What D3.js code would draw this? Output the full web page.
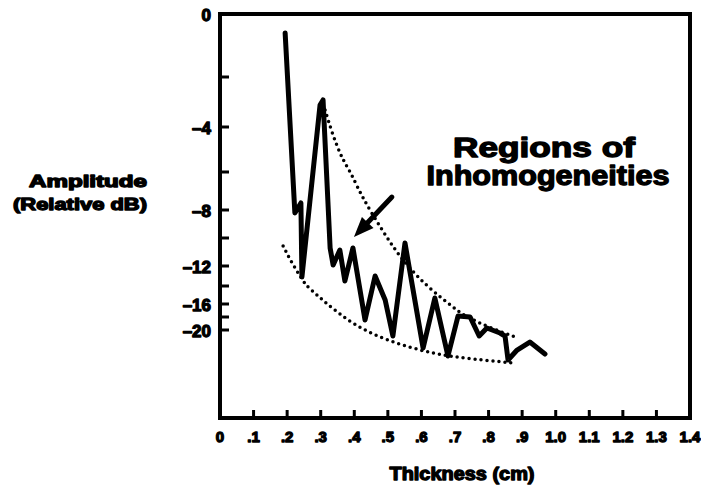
<!DOCTYPE html>
<html>
<head>
<meta charset="utf-8">
<script src="https://cdn.jsdelivr.net/npm/d3@7"></script>
<style>
  body { margin: 0; background: #fff; }
  text { font-family: "Liberation Sans", Arial, sans-serif; font-weight: bold; fill: #000; stroke: #000; stroke-width: 1.3px; stroke-linejoin: round; }
</style>
</head>
<body>
<div id="chart"></div>
<script>
// measured trace (thickness in cm, amplitude in relative dB)
const curveX = [0.194, 0.223, 0.241, 0.244, 0.298, 0.307, 0.328, 0.337, 0.357, 0.372, 0.396, 0.432, 0.462, 0.492, 0.515, 0.551, 0.605, 0.640, 0.679, 0.709, 0.745, 0.772, 0.795, 0.834, 0.849, 0.858, 0.885, 0.923, 0.968];
const curveDb = [-0.6, -8.21, -7.63, -13.1, -3.12, -2.92, -10.71, -11.93, -10.86, -13.5, -10.71, -18.46, -13.0, -15.56, -20.92, -10.36, -22.77, -15.33, -24.0, -17.85, -18.0, -20.92, -19.69, -20.46, -20.92, -24.62, -23.08, -21.85, -23.69];

// dotted envelopes
const upperX = [0.313, 0.334, 0.357, 0.372, 0.396, 0.423, 0.486, 0.542, 0.617, 0.706, 0.724, 0.804, 0.888];
const upperDb = [-3.32, -4.27, -5.16, -5.6, -6.26, -7.32, -9.57, -11.57, -14.11, -16.92, -17.69, -19.69, -21.23];
const lowerX = [0.188, 0.214, 0.253, 0.262, 0.349, 0.447, 0.617, 0.724, 0.843, 0.870];
const lowerDb = [-10.57, -11.79, -13.8, -14.11, -17.38, -20.77, -23.54, -24.31, -24.92, -25.08];

// axes
const xTicks = [0, 0.1, 0.2, 0.3, 0.4, 0.5, 0.6, 0.7, 0.8, 0.9, 1.0, 1.1, 1.2, 1.3, 1.4];
const xTickLabels = ["0", ".1", ".2", ".3", ".4", ".5", ".6", ".7", ".8", ".9", "1.0", "1.1", "1.2", "1.3", "1.4"];
const yTicks = [0, -2, -4, -6, -8, -10, -12, -14, -16, -18, -20];
const yLabelled = [0, -4, -8, -12, -16, -20];

// annotation arrow (tail, tip)
const arrowX = [0.512, 0.399];
const arrowDb = [-7.32, -9.93];

const width = 701, height = 493;
const plotLeft = 220, plotRight = 690, plotTop = 14, plotBottom = 418;

const svg = d3.select('#chart').append('svg').attr('width', width).attr('height', height);

const x = d3.scaleLinear().domain([0, 1.4]).range([plotLeft, plotRight]);
// the printed dB axis is compressed toward the bottom
const y = d3.scaleLinear()
    .domain(yTicks)
    .range([14, 77, 127, 172, 210, 238, 266, 286, 304, 317, 330]);

// frame
svg.append('rect')
    .attr('x', plotLeft).attr('y', plotTop)
    .attr('width', plotRight - plotLeft).attr('height', plotBottom - plotTop)
    .attr('fill', 'none').attr('stroke', '#000').attr('stroke-width', 4);

// x ticks (pointing up)
svg.selectAll('.xt').data(xTicks.slice(1, -1)).enter().append('line')
    .attr('x1', d => x(d)).attr('x2', d => x(d))
    .attr('y1', plotBottom).attr('y2', plotBottom - 8)
    .attr('stroke', '#000').attr('stroke-width', 3);

svg.selectAll('.xl').data(xTicks).enter().append('text')
    .attr('x', d => x(d)).attr('y', 442)
    .attr('text-anchor', 'middle').attr('font-size', 15)
    .text((d, i) => xTickLabels[i]);

// y ticks (pointing right)
svg.selectAll('.yt').data(yTicks.slice(1)).enter().append('line')
    .attr('x1', plotLeft).attr('x2', plotLeft + 9)
    .attr('y1', d => y(d)).attr('y2', d => y(d))
    .attr('stroke', '#000').attr('stroke-width', 3);

svg.selectAll('.yl').data(yLabelled).enter().append('text')
    .attr('x', 211).attr('y', d => y(d) + 7)
    .attr('text-anchor', 'end').attr('font-size', 17)
    .text(d => d === 0 ? "0" : "\u2013" + Math.abs(d));

// axis titles
svg.append('text').attr('x', 88).attr('y', 187).attr('text-anchor', 'middle')
    .attr('font-size', 16).attr('textLength', 118).attr('lengthAdjust', 'spacingAndGlyphs')
    .text('Amplitude');
svg.append('text').attr('x', 80).attr('y', 210).attr('text-anchor', 'middle')
    .attr('font-size', 16).attr('textLength', 134).attr('lengthAdjust', 'spacingAndGlyphs')
    .text('(Relative dB)');
svg.append('text').attr('x', 462).attr('y', 480).attr('text-anchor', 'middle')
    .attr('font-size', 18).attr('textLength', 145).attr('lengthAdjust', 'spacingAndGlyphs')
    .text('Thickness (cm)');

// annotation
svg.append('text').attr('x', 544).attr('y', 157).attr('text-anchor', 'middle')
    .attr('font-size', 27).attr('textLength', 182).attr('lengthAdjust', 'spacingAndGlyphs')
    .text('Regions of');
svg.append('text').attr('x', 548).attr('y', 185).attr('text-anchor', 'middle')
    .attr('font-size', 27).attr('textLength', 243).attr('lengthAdjust', 'spacingAndGlyphs')
    .text('Inhomogeneities');

// envelopes
const env = d3.line().curve(d3.curveBasis).x(d => x(d[0])).y(d => y(d[1]));
[[upperX, upperDb], [lowerX, lowerDb]].forEach(([xs, ds]) => {
    svg.append('path')
        .attr('d', env(xs.map((v, i) => [v, ds[i]])))
        .attr('fill', 'none').attr('stroke', '#000')
        .attr('stroke-width', 3.5).attr('stroke-linecap', 'round')
        .attr('stroke-dasharray', '0 6');
});

// measured trace
const trace = d3.line().x(d => x(d[0])).y(d => y(d[1]));
svg.append('path')
    .attr('d', trace(curveX.map((v, i) => [v, curveDb[i]])))
    .attr('fill', 'none').attr('stroke', '#000')
    .attr('stroke-width', 5).attr('stroke-linejoin', 'round').attr('stroke-linecap', 'round');

// arrow
const ax0 = x(arrowX[0]), ay0 = y(arrowDb[0]), ax1 = x(arrowX[1]), ay1 = y(arrowDb[1]);
const ang = Math.atan2(ay1 - ay0, ax1 - ax0);
const headLen = 20, headW = 8;
const bx = ax1 - headLen * Math.cos(ang), by = ay1 - headLen * Math.sin(ang);
svg.append('line')
    .attr('x1', ax0).attr('y1', ay0).attr('x2', bx).attr('y2', by)
    .attr('stroke', '#000').attr('stroke-width', 5).attr('stroke-linecap', 'round');
svg.append('path')
    .attr('d', `M${ax1},${ay1} L${bx + headW * Math.sin(ang)},${by - headW * Math.cos(ang)} L${bx - headW * Math.sin(ang)},${by + headW * Math.cos(ang)} Z`)
    .attr('fill', '#000');
</script>
</body>
</html>
